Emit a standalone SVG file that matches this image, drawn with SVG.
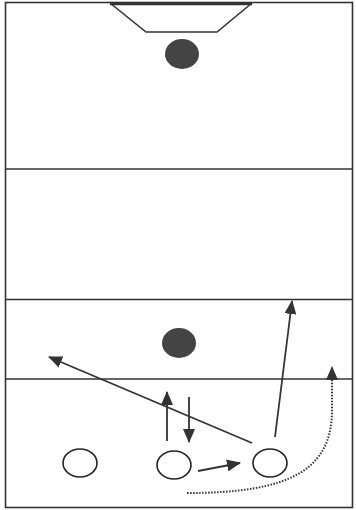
<svg xmlns="http://www.w3.org/2000/svg" width="356" height="510" viewBox="0 0 356 510">
<style>
.ln{stroke:#333;stroke-width:1.6;fill:none}
.ball{fill:#444}
.pl{fill:#fff;stroke:#222;stroke-width:1.6}
.arr{stroke:#333;stroke-width:1.8;fill:none;marker-end:url(#ah)}
.dot{stroke:#333;stroke-width:2;fill:none;stroke-dasharray:1.5 1.5;marker-end:url(#ah)}
</style>
<defs>
<marker id="ah" viewBox="0 0 14 12" refX="13" refY="6" markerWidth="14" markerHeight="12" orient="auto" markerUnits="userSpaceOnUse">
<path d="M0,0 L14,6 L0,12 z" fill="#333"/>
</marker>
</defs>
<rect width="356" height="510" fill="#fff"/>
<g id="field">
<rect x="5.5" y="2.5" width="347" height="505" class="ln"/>
<line x1="5.5" y1="169" x2="352.5" y2="169" class="ln"/>
<line x1="5.5" y1="299.5" x2="352.5" y2="299.5" class="ln"/>
<line x1="5.5" y1="379" x2="352.5" y2="379" class="ln"/>
</g>
<g id="goal">
<line x1="110" y1="4" x2="252" y2="4" stroke="#333" stroke-width="2.5"/>
<polyline points="110,3 146,32 217,32 252,3" class="ln"/>
</g>
<g id="ball1"><ellipse cx="182" cy="54" rx="17" ry="15" class="ball"/></g>
<g id="ball2"><ellipse cx="179" cy="343" rx="17" ry="15" class="ball"/></g>
<g id="player1"><ellipse cx="80" cy="463" rx="17" ry="14" class="pl"/></g>
<g id="player2"><ellipse cx="174" cy="465" rx="17" ry="14" class="pl"/></g>
<g id="player3"><ellipse cx="270" cy="463" rx="17" ry="14" class="pl"/></g>
<g id="connectors">
<line x1="275" y1="437" x2="292" y2="301" class="arr"/>
<line x1="252" y1="443" x2="49" y2="357" class="arr"/>
<line x1="167" y1="441" x2="167" y2="392" class="arr"/>
<line x1="189" y1="397" x2="189" y2="442" class="arr"/>
<line x1="198" y1="471" x2="240" y2="463" class="arr"/>
<path d="M187,493 C290,493 332,470 332,410 L332,367" class="dot"/>
</g>
</svg>
